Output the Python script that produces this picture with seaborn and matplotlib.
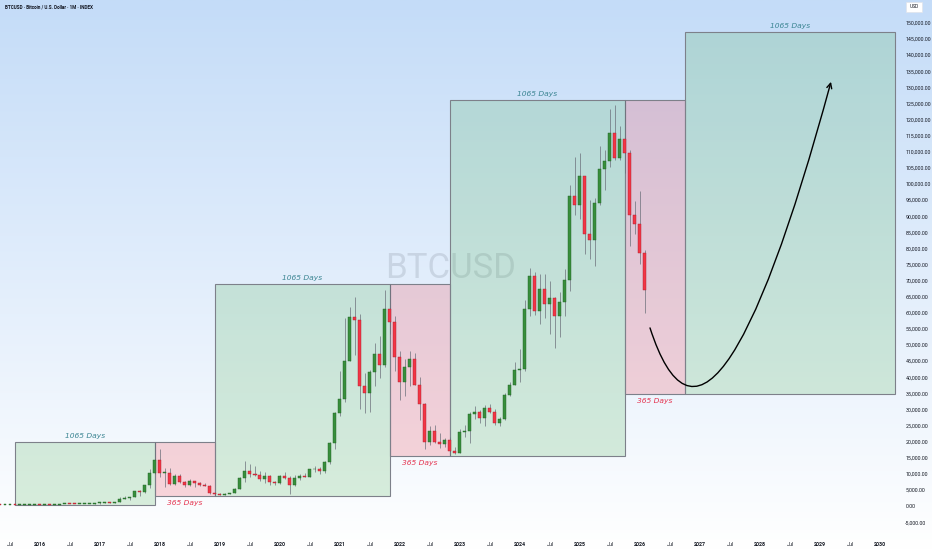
import numpy as np
import pandas as pd
import seaborn as sns
import matplotlib
matplotlib.use('Agg')
import matplotlib.pyplot as plt
from matplotlib.patches import Rectangle, FancyArrowPatch
from matplotlib.path import Path

# monthly BTCUSD candles, May 2015 .. Feb 2026
first_month = '2015-05-01'
opens = [236, 230, 263, 284, 230, 236, 314, 377,
         430, 368, 437, 416, 448, 531, 673, 624, 575, 609, 698, 742,
         964, 970, 1190, 1080, 1350, 2300, 2480, 2875, 4700, 4340, 6470, 10200,
         14150, 10200, 10300, 6900, 9250, 7500, 6400, 7730, 7030, 6630, 6370, 4040,
         3740, 3460, 3850, 4100, 5350, 8570, 10800, 10100, 9600, 8300, 9200, 7550,
         7200, 9350, 8600, 6400, 8630, 9450, 9140, 11350, 11650, 10780, 13800, 19700,
         28950, 33100, 45100, 58800, 57700, 37300, 35040, 41500, 47100, 43800, 61300, 57000,
         46300, 38500, 43200, 45500, 37700, 31800, 19900, 23300, 20000, 19400, 20500, 17200,
         16550, 23100, 23150, 28500, 29250, 27200, 30500, 29200, 25900, 27000, 34500, 37700,
         42300, 42600, 61100, 71300, 60600, 67500, 62700, 64600, 58900, 63300, 70200, 96400,
         93400, 102400, 84400, 82500, 94200, 104600, 107100, 115700, 108200, 114000, 109600, 90400,
         87500, 78600]
highs = [247, 268, 317, 285, 247, 334, 503, 470,
         462, 448, 440, 467, 553, 780, 705, 626, 620, 740, 755, 975,
         1150, 1200, 1290, 1350, 2790, 3000, 2920, 4740, 5000, 6470, 11500, 19800,
         17700, 11800, 11700, 9800, 10000, 7800, 8500, 7750, 7400, 7000, 6600, 4200,
         4100, 4200, 4150, 5600, 9000, 13900, 13100, 12300, 10900, 10500, 9500, 7700,
         9600, 10500, 9200, 9500, 10000, 10400, 11450, 12500, 12100, 14100, 19900, 29300,
         42000, 58300, 61800, 64900, 59500, 41300, 42300, 50500, 52900, 67000, 69000, 59000,
         48000, 45800, 48200, 47400, 40000, 31900, 24700, 25200, 22800, 21000, 21500, 18400,
         23900, 25250, 29200, 31000, 29800, 31400, 31800, 30200, 27500, 35200, 38400, 44700,
         48900, 64000, 73800, 72700, 71900, 72000, 70000, 65000, 66500, 73600, 99600, 108300,
         109600, 102500, 95000, 95700, 111900, 110500, 123200, 124500, 117900, 126200, 110600, 94600,
         97900, 79400]
lows = [228, 220, 253, 199, 225, 236, 300, 345,
        354, 367, 394, 414, 437, 511, 594, 534, 570, 604, 680, 740,
        752, 920, 890, 1080, 1350, 2100, 1830, 2700, 2970, 4100, 5500, 10100,
        9000, 5900, 6600, 6400, 7000, 5800, 6100, 5880, 6100, 6200, 3650, 3150,
        3350, 3400, 3700, 4080, 5300, 7500, 9100, 9400, 7700, 7300, 6500, 6430,
        6870, 8400, 3800, 6200, 8100, 8900, 8900, 10500, 9800, 10400, 13200, 17600,
        28100, 32400, 45000, 47000, 30000, 28800, 29300, 37300, 39600, 43300, 53300, 42000,
        32900, 34300, 37200, 37600, 26700, 17600, 18800, 19600, 18100, 18200, 15500, 16300,
        16500, 21400, 19600, 26900, 25800, 24800, 28900, 25200, 24900, 26600, 34100, 37600,
        38500, 41900, 59000, 59200, 56600, 58400, 53500, 49000, 52600, 58900, 66800, 90500,
        89200, 78200, 76600, 74400, 93400, 98200, 105300, 107300, 107300, 103500, 80600, 84400,
        75000, 60000]
closes = [230, 263, 284, 230, 236, 314, 377, 430,
          368, 437, 416, 448, 531, 673, 624, 575, 609, 698, 742, 964,
          970, 1190, 1080, 1350, 2300, 2480, 2875, 4700, 4340, 6470, 10200, 14150,
          10200, 10300, 6900, 9250, 7500, 6400, 7730, 7030, 6630, 6370, 4040, 3740,
          3460, 3850, 4100, 5350, 8570, 10800, 10100, 9600, 8300, 9200, 7550, 7200,
          9350, 8600, 6400, 8630, 9450, 9140, 11350, 11650, 10780, 13800, 19700, 28950,
          33100, 45100, 58800, 57700, 37300, 35040, 41500, 47100, 43800, 61300, 57000, 46300,
          38500, 43200, 45500, 37700, 31800, 19900, 23300, 20000, 19400, 20500, 17200, 16550,
          23100, 23150, 28500, 29250, 27200, 30500, 29200, 25900, 27000, 34500, 37700, 42300,
          42600, 61100, 71300, 60600, 67500, 62700, 64600, 58900, 63300, 70200, 96400, 93400,
          102400, 84400, 82500, 94200, 104600, 107100, 115700, 108200, 114000, 109600, 90400, 87500,
          78600, 67000]

# cycle rectangles (month index from Jan 2016 = 0)
box_start = [-5, 23, 35, 70, 82, 117, 129]
box_end = [23, 35, 70, 82, 117, 129, 171]
box_top = [19800, 19800, 69000, 69000, 126200, 126200, 147200]
box_bottom = [200, 3150, 3150, 15500, 15500, 34800, 34800]
box_kind = ['bull', 'bear', 'bull', 'bear', 'bull', 'bear', 'bull']
box_text = ['1065 Days', '365 Days', '1065 Days', '365 Days', '1065 Days', '365 Days', '1065 Days']

# projected path (month index, price)
path_x = [122, 134.4, 158.2]
path_y = [55300, -4300, 131700]

sns.set_theme(style='white')
plt.rcParams['font.family'] = ['Roboto', 'DejaVu Sans']

df = pd.DataFrame({'open': opens, 'high': highs, 'low': lows, 'close': closes},
                  index=pd.date_range(first_month, periods=len(opens), freq='MS'))
df['m'] = (df.index.year - 2016) * 12 + df.index.month - 1
df['up'] = df['close'] >= df['open']

fig = plt.figure(figsize=(9.32, 5.5), dpi=100)

# gradient background
bg = fig.add_axes([0, 0, 1, 1])
top_c = np.array([196, 220, 248]) / 255
bot_c = np.array([255, 255, 255]) / 255
t = np.linspace(0, 1, 256)[:, None]
grad = top_c * (1 - t) + bot_c * t
bg.imshow(grad[:, None, :], aspect='auto', extent=[0, 1, 0, 1])
bg.axis('off')
bg.set_zorder(0)

ax = fig.add_axes([0, 14 / 550, 897 / 932, 536 / 550])
ax.set_zorder(1)
ax.patch.set_alpha(0)

# watermark
ax.text(0.502, 0.50, 'BTCUSD', transform=ax.transAxes, fontsize=25, color='#8d98a8',
        alpha=0.28, ha='center', va='center', family='Roboto', zorder=0.5)

# boxes
fills = {'bull': (0.30, 0.69, 0.31, 0.2), 'bear': (0.95, 0.21, 0.27, 0.2)}
txt_col = {'bull': '#3b8592', 'bear': '#e5334f'}
for s, e, tp, bt, k, lab in zip(box_start, box_end, box_top, box_bottom, box_kind, box_text):
    ax.add_patch(Rectangle((s, bt), e - s, tp - bt, facecolor=fills[k],
                           edgecolor='#7d808a', lw=0.8, zorder=1))
    if k == 'bull':
        ax.annotate(lab, ((s + e) / 2, tp), xytext=(0, 2), textcoords='offset points',
                    ha='center', va='bottom', fontsize=5.4, style='italic',
                    family='DejaVu Sans', color=txt_col[k], zorder=4)
    else:
        ax.annotate(lab, ((s + e) / 2, bt), xytext=(0, -3), textcoords='offset points',
                    ha='center', va='top', fontsize=5.4, style='italic',
                    family='DejaVu Sans', color=txt_col[k], zorder=4)

# candles
ax.vlines(df['m'], df['low'], df['high'], color='#6b6f7a', lw=0.5, zorder=2)
body_lo = df[['open', 'close']].min(axis=1)
body_h = (df['close'] - df['open']).abs().clip(lower=300)
up = df['up']
ax.bar(df['m'][up], body_h[up], bottom=body_lo[up], width=0.6,
       color='#388e3c', edgecolor='#1e5e22', lw=0.3, zorder=3)
ax.bar(df['m'][~up], body_h[~up], bottom=body_lo[~up], width=0.6,
       color='#f23645', edgecolor='#a51d2d', lw=0.3, zorder=3)

# projection arrow
curve = Path(list(zip(path_x, path_y)), [Path.MOVETO, Path.CURVE3, Path.CURVE3])
ax.add_patch(FancyArrowPatch(path=curve, arrowstyle='->', mutation_scale=9,
                             color='black', lw=1.0, transform=ax.transData, zorder=5))

ax.set_xlim(-8, 171.4)
ax.set_ylim(-9300, 157100)

yt = np.arange(-5000, 150001, 5000)
ax.yaxis.tick_right()
ax.set_yticks(yt)
ax.set_yticklabels([f'{v:,.2f}' for v in yt])
ax.tick_params(axis='y', length=0, pad=6, labelsize=3.8, labelcolor='#131722')

xt = np.arange(-6, 169, 6)
ax.set_xticks(xt)
ax.set_xticklabels([str(2016 + m // 12) if m % 12 == 0 else 'Jul' for m in xt])
ax.tick_params(axis='x', length=0, pad=4, labelsize=3.8, labelcolor='#131722')
for lb in ax.get_xticklabels():
    if lb.get_text() != 'Jul':
        lb.set_fontweight('bold')

for sp in ax.spines.values():
    sp.set_visible(False)
ax.grid(False)

fig.text(5 / 932, 1 - 7 / 550, 'BTCUSD · Bitcoin / U.S. Dollar · 1M · INDEX',
         fontsize=3.3, fontweight='bold', color='#131722', va='center', ha='left')
fig.text(914 / 932, 1 - 7 / 550, 'USD', fontsize=3.5, color='#131722', ha='center', va='center',
         bbox=dict(boxstyle='square,pad=0.6', facecolor='white', edgecolor='#e0e3eb', lw=0.5))

fig.savefig('out.png', dpi=100)
